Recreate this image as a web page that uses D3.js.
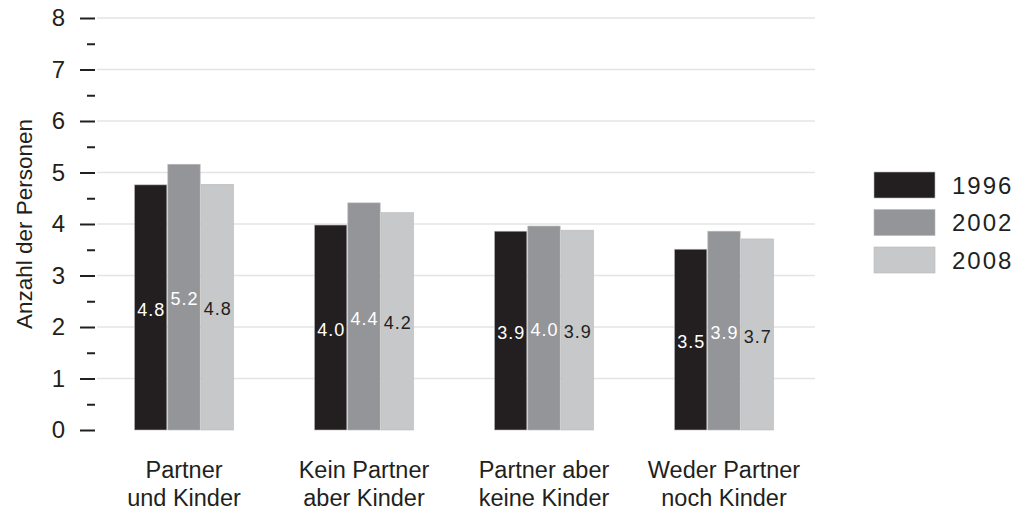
<!DOCTYPE html>
<html>
<head>
<meta charset="utf-8">
<script src="https://cdn.jsdelivr.net/npm/d3@7"></script>
<style>
  body { margin: 0; background: #fff; }
  text { font-family: "Liberation Sans", Arial, sans-serif; fill: #231f20; }
</style>
</head>
<body>
<div id="chart"></div>
<script>
// Data
const categories = [
  ["Partner", "und Kinder"],
  ["Kein Partner", "aber Kinder"],
  ["Partner aber", "keine Kinder"],
  ["Weder Partner", "noch Kinder"],
];
const years = ["1996", "2002", "2008"];
const values1996 = [4.76, 3.98, 3.86, 3.51];
const values2002 = [5.16, 4.41, 3.96, 3.86];
const values2008 = [4.77, 4.22, 3.88, 3.71];
const yTicks = [0, 1, 2, 3, 4, 5, 6, 7, 8];

const series = [values1996, values2002, values2008];
const colors = ["#231f20", "#939598", "#c7c8ca"];
const labelColors = ["#ffffff", "#ffffff", "#231f20"];

// Dimensions
const dimensions = { width: 1023, height: 511 };

const svg = d3
  .select("#chart")
  .append("svg")
  .attr("width", dimensions.width)
  .attr("height", dimensions.height);

// Scales
const xScale = d3
  .scaleBand()
  .domain(categories.map((d, i) => i))
  .range([94, 814]);

const barScale = d3
  .scaleBand()
  .domain(years)
  .range([-49.5, 49.5])
  .paddingInner(0.03);

const yScale = d3.scaleLinear().domain([0, 8]).range([430, 18]);

// Gridlines
svg
  .append("g")
  .selectAll("line")
  .data(yTicks.slice(1))
  .join("line")
  .attr("x1", 97)
  .attr("x2", 815)
  .attr("y1", (d) => yScale(d))
  .attr("y2", (d) => yScale(d))
  .attr("stroke", "#e4e4e4")
  .attr("stroke-width", 1.5);

// Y axis (major + minor dashes)
const yAxis = d3
  .axisLeft(yScale)
  .tickValues(yTicks)
  .tickSize(15)
  .tickPadding(15)
  .tickFormat(d3.format("d"));

const yAxisGroup = svg
  .append("g")
  .attr("transform", "translate(95,0)")
  .call(yAxis);
yAxisGroup.select(".domain").remove();
yAxisGroup.selectAll(".tick line").attr("stroke", "#231f20").attr("stroke-width", 2);
yAxisGroup
  .selectAll(".tick text")
  .attr("font-size", 24)
  .attr("fill", "#231f20");

const minorAxis = d3
  .axisLeft(yScale)
  .tickValues(yTicks.slice(1).map((d) => d - 0.5))
  .tickSize(8)
  .tickFormat("");
const minorGroup = svg
  .append("g")
  .attr("transform", "translate(95,0)")
  .call(minorAxis);
minorGroup.select(".domain").remove();
minorGroup.selectAll(".tick line").attr("stroke", "#231f20").attr("stroke-width", 2);

// Y title
svg
  .append("text")
  .attr("transform", `translate(32, ${yScale(4)}) rotate(-90)`)
  .attr("text-anchor", "middle")
  .attr("font-size", 22.5)
  .text("Anzahl der Personen");

// Bars
const groups = svg
  .append("g")
  .selectAll("g")
  .data(categories)
  .join("g")
  .attr("transform", (d, i) => `translate(${xScale(i) + xScale.bandwidth() / 2},0)`);

series.forEach((vals, s) => {
  groups
    .append("rect")
    .attr("x", barScale(years[s]))
    .attr("width", barScale.bandwidth())
    .attr("y", (d, i) => yScale(vals[i]))
    .attr("height", (d, i) => yScale(0) - yScale(vals[i]))
    .attr("fill", colors[s])
    .attr("stroke", "#b8b8b8")
    .attr("stroke-width", 0.6);

  groups
    .append("text")
    .attr("x", barScale(years[s]) + barScale.bandwidth() / 2 + 0.5)
    .attr("y", (d, i) => (yScale(vals[i]) + yScale(0)) / 2)
    .attr("dy", "0.45em")
    .attr("text-anchor", "middle")
    .attr("font-size", 18)
    .style("letter-spacing", "1px")
    .style("fill", labelColors[s])
    .text((d, i) => d3.format(".1f")(vals[i]));
});

// Category labels
const catLabels = groups
  .append("text")
  .attr("text-anchor", "middle")
  .attr("font-size", 23.5);
catLabels
  .append("tspan")
  .attr("x", 0)
  .attr("y", 478)
  .text((d) => d[0]);
catLabels
  .append("tspan")
  .attr("x", 0)
  .attr("y", 506)
  .text((d) => d[1]);

// Legend
const legend = svg
  .append("g")
  .selectAll("g")
  .data(years)
  .join("g")
  .attr("transform", (d, i) => `translate(874, ${172 + i * 37.5})`);
legend
  .append("rect")
  .attr("width", 61)
  .attr("height", 26)
  .attr("fill", (d, i) => colors[i])
  .attr("stroke", "#b8b8b8")
  .attr("stroke-width", 0.6);
legend
  .append("text")
  .attr("x", 78)
  .attr("y", 13)
  .attr("dy", "0.36em")
  .attr("font-size", 24)
  .style("letter-spacing", "2px")
  .text((d) => d);
</script>
</body>
</html>
